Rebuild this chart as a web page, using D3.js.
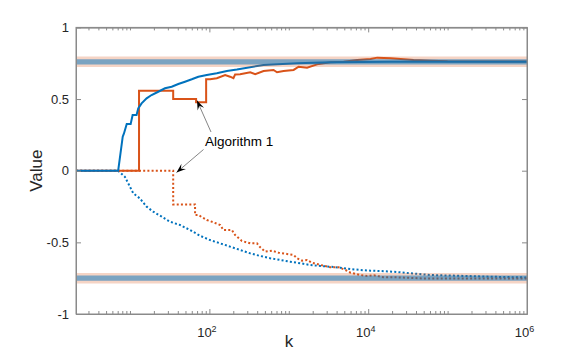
<!DOCTYPE html>
<html><head><meta charset="utf-8">
<script src="https://cdn.jsdelivr.net/npm/d3@7"></script>
<style>html,body{margin:0;padding:0;background:#fff;}svg{display:block;font-family:"Liberation Sans",Arial,Helvetica,sans-serif;}</style>
</head><body><svg id="c" width="581" height="353"></svg>
<script>
// ---- data ----
const xDomain = [2.09, 1e6];
const yDomain = [-1, 1];
const yTicks = [-1, -0.5, 0, 0.5, 1];
const yTickLabels = ["-1", "-0.5", "0", "0.5", "1"];
const xMajorTicks = [1e2, 1e4, 1e6];
const xMajorExps = ["2", "4", "6"];
const bandValues = [0.76, -0.75];

const kBlueSolid = [2.09, 7.1, 8.1, 8.4, 9.1, 10.2, 10.8, 12.1, 12.7, 14.0, 16.2, 18.7, 22.7, 27.6, 33.5, 40.6, 49.3, 60, 72.6, 92.7, 124, 166, 222, 481, 1270, 3340, 19100, 1e6];
const vBlueSolid = [0, 0, 0.237, 0.26, 0.326, 0.326, 0.389, 0.389, 0.435, 0.47, 0.505, 0.528, 0.551, 0.575, 0.586, 0.605, 0.621, 0.638, 0.656, 0.668, 0.68, 0.696, 0.706, 0.738, 0.749, 0.756, 0.761, 0.761];

const kBlueDot = [2.09, 7.1, 8.6, 9.5, 11.0, 13.3, 16.2, 19.6, 25.1, 31.9, 42.7, 57, 76.3, 102, 137, 182, 244, 327, 437, 584, 781, 1045, 1400, 1870, 2500, 3340, 4470, 5980, 8000, 10700, 14300, 23200, 34200, 61200, 133000, 351000, 1e6];
const vBlueDot = [0, 0, -0.042, -0.088, -0.158, -0.193, -0.251, -0.286, -0.321, -0.356, -0.379, -0.414, -0.454, -0.484, -0.507, -0.53, -0.553, -0.577, -0.595, -0.611, -0.623, -0.635, -0.646, -0.658, -0.665, -0.67, -0.677, -0.686, -0.693, -0.698, -0.7, -0.707, -0.716, -0.728, -0.733, -0.74, -0.745];

const kOrangeSolid = [2.09, 13, 13, 35, 35, 68, 68, 91, 91, 102, 124, 158, 182, 201, 211, 244, 327, 378, 481, 643, 710, 860, 1150, 1330, 1700, 2270, 3340, 4920, 7260, 10700, 13000, 19100, 25600, 37300, 61200, 100000, 1e6];
const vOrangeSolid = [0, 0, 0.558, 0.558, 0.50, 0.50, 0.477, 0.477, 0.638, 0.638, 0.645, 0.668, 0.656, 0.645, 0.672, 0.673, 0.687, 0.673, 0.696, 0.703, 0.687, 0.696, 0.703, 0.726, 0.719, 0.742, 0.756, 0.761, 0.773, 0.78, 0.789, 0.784, 0.78, 0.773, 0.768, 0.763, 0.762];

const kOrangeDot = [2.09, 35, 35, 66, 66, 72.4, 92.7, 112, 137, 150, 192, 211, 256, 327, 397, 437, 505, 613, 743, 948, 1150, 1270, 1470, 1700, 1960, 2500, 3340, 4260, 5170, 5980, 8000, 9710, 11800, 15700, 23200, 50000, 1e6];
const vOrangeDot = [0, 0, -0.235, -0.235, -0.309, -0.309, -0.344, -0.36, -0.379, -0.414, -0.414, -0.449, -0.49, -0.507, -0.507, -0.535, -0.565, -0.558, -0.572, -0.581, -0.588, -0.611, -0.628, -0.623, -0.642, -0.658, -0.674, -0.674, -0.693, -0.712, -0.728, -0.735, -0.73, -0.744, -0.744, -0.752, -0.752];

const annotationText = "Algorithm 1";

// ---- drawing ----
const blue = "#0072BD", orange = "#D95319";
const L = 76, R = 527, T = 27.4, B = 314;
const svg = d3.select("#c");
svg.append("rect").attr("width", 581).attr("height", 353).attr("fill", "#fff");
const x = d3.scaleLog().domain(xDomain).range([L, R]);
const y = d3.scaleLinear().domain(yDomain).range([B, T]);

const line = (ks, vs) => d3.line().x((d, i) => x(ks[i])).y((d, i) => y(vs[i]))(ks);

const g = svg.append("g");
g.append("path").attr("d", line(kBlueDot, vBlueDot)).attr("fill", "none").attr("stroke", blue)
  .attr("stroke-width", 2).attr("stroke-dasharray", "2 2.2");
g.append("path").attr("d", line(kOrangeDot, vOrangeDot)).attr("fill", "none").attr("stroke", orange)
  .attr("stroke-width", 2).attr("stroke-dasharray", "2 2.2");
g.append("path").attr("d", line(kOrangeSolid, vOrangeSolid)).attr("fill", "none").attr("stroke", orange)
  .attr("stroke-width", 2).attr("stroke-linejoin", "miter");
g.append("path").attr("d", line(kBlueSolid, vBlueSolid)).attr("fill", "none").attr("stroke", blue)
  .attr("stroke-width", 2);

// bands
bandValues.forEach(v => {
  g.append("line").attr("x1", L).attr("x2", R).attr("y1", y(v)).attr("y2", y(v))
    .attr("stroke", orange).attr("stroke-opacity", 0.25).attr("stroke-width", 10.5);
  g.append("line").attr("x1", L).attr("x2", R).attr("y1", y(v)).attr("y2", y(v))
    .attr("stroke", blue).attr("stroke-opacity", 0.5).attr("stroke-width", 5.3);
});

// axes
const axCol = "#8a8a8a", txtCol = "#262626";
function styleAxis(sel) {
  sel.select(".domain").attr("stroke", axCol).attr("stroke-width", 1);
  sel.selectAll(".tick line").attr("stroke", axCol).attr("stroke-width", 1);
  sel.selectAll("text").attr("fill", txtCol).attr("font-size", 13)
    .attr("font-family", "'Liberation Sans',Arial,Helvetica,sans-serif");
}
const minor = [];
for (let d = 0; d < 6; d++) for (let j = 1; j <= 9; j++) {
  const v = j * Math.pow(10, d);
  if (v >= xDomain[0] && v <= xDomain[1] && !xMajorTicks.includes(v)) minor.push(v);
}
const yl = svg.append("g").attr("transform", `translate(${L},0)`)
  .call(d3.axisLeft(y).tickValues(yTicks).tickSize(-5).tickSizeOuter(0).tickPadding(7)
    .tickFormat((d, i) => yTickLabels[i]));
styleAxis(yl);
const yr = svg.append("g").attr("transform", `translate(${R},0)`)
  .call(d3.axisRight(y).tickValues(yTicks).tickSize(-5).tickSizeOuter(0).tickFormat(""));
styleAxis(yr);
const xbMinor = svg.append("g").attr("transform", `translate(0,${B})`)
  .call(d3.axisBottom(x).tickValues(minor).tickSize(-3).tickSizeOuter(0).tickFormat(""));
styleAxis(xbMinor);
const xtMinor = svg.append("g").attr("transform", `translate(0,${T})`)
  .call(d3.axisTop(x).tickValues(minor).tickSize(-3).tickSizeOuter(0).tickFormat(""));
styleAxis(xtMinor);
const xt = svg.append("g").attr("transform", `translate(0,${T})`)
  .call(d3.axisTop(x).tickValues(xMajorTicks).tickSize(-5).tickSizeOuter(0).tickFormat(""));
styleAxis(xt);
const xb = svg.append("g").attr("transform", `translate(0,${B})`)
  .call(d3.axisBottom(x).tickValues(xMajorTicks).tickSize(-5).tickSizeOuter(0).tickFormat(() => ""));
styleAxis(xb);
xb.selectAll(".tick text").each(function(d, i) {
  const t = d3.select(this).attr("y", 23).attr("dy", 0).attr("x", -3).attr("text-anchor", "middle");
  t.text(null);
  t.append("tspan").text("10");
  t.append("tspan").attr("dy", -5).attr("font-size", 9).text(xMajorExps[i]);
});

// axis labels
svg.append("text").attr("x", 289).attr("y", 347).attr("text-anchor", "middle")
  .attr("font-size", 17).attr("fill", txtCol).text("k");
svg.append("text").attr("transform", `translate(42,${(T + B) / 2}) rotate(-90)`).attr("text-anchor", "middle")
  .attr("font-size", 17).attr("fill", txtCol).text("Value");

// annotation
svg.append("text").attr("x", 205).attr("y", 145.5).attr("font-size", 13.5).attr("fill", "#000").text(annotationText);
function arrow(sx, sy, tx, ty) {
  svg.append("line").attr("x1", sx).attr("y1", sy).attr("x2", tx).attr("y2", ty)
    .attr("stroke", "#333").attr("stroke-width", 0.6);
  const dx = tx - sx, dy = ty - sy, len = Math.hypot(dx, dy);
  const ux = dx / len, uy = dy / len, nx = -uy, ny = ux;
  const Lh = 9.5, W = 7;
  const pts = [[tx, ty],
    [tx - Lh * ux + W / 2 * nx, ty - Lh * uy + W / 2 * ny],
    [tx - 0.6 * Lh * ux, ty - 0.6 * Lh * uy],
    [tx - Lh * ux - W / 2 * nx, ty - Lh * uy - W / 2 * ny]];
  svg.append("polygon").attr("points", pts.map(p => p.join(",")).join(" ")).attr("fill", "#000");
}
arrow(211, 132, 197, 100.5);
arrow(203.5, 149.5, 176.5, 172.5);

// box lines on top
svg.append("rect").attr("x", L).attr("y", T).attr("width", R - L).attr("height", B - T)
  .attr("fill", "none").attr("stroke", axCol).attr("stroke-width", 1);
</script></body></html>
